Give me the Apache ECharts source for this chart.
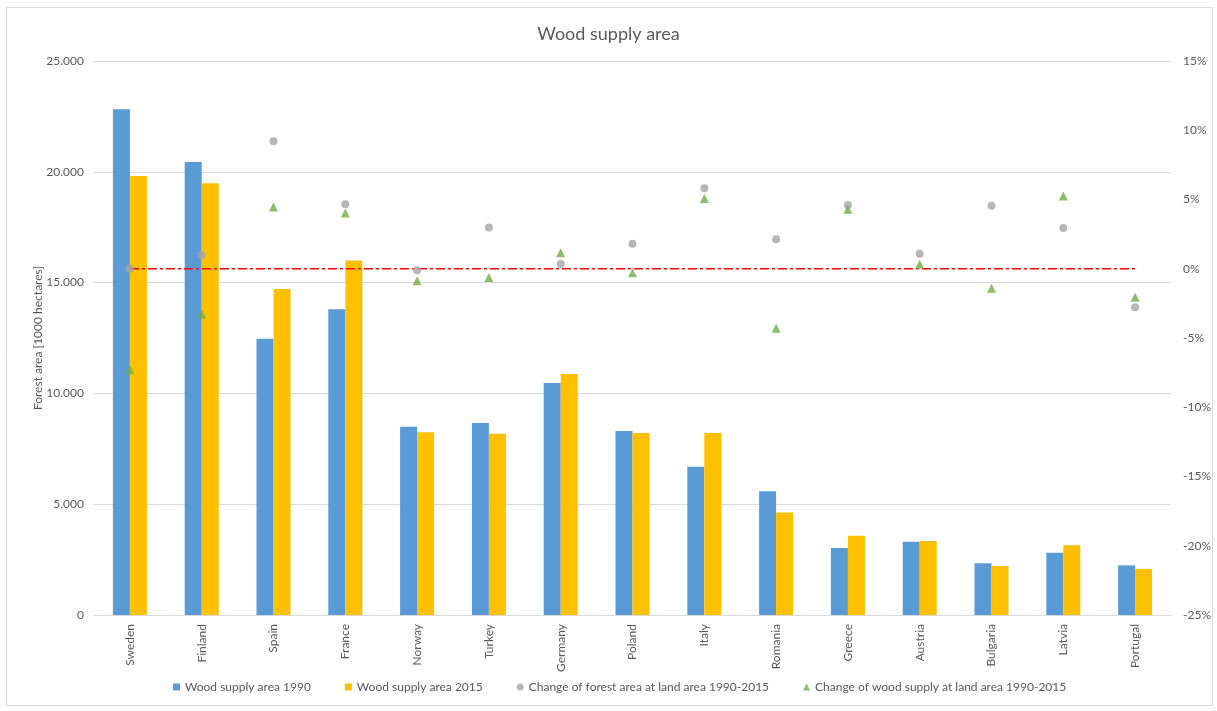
<!DOCTYPE html>
<html>
<head>
<meta charset="utf-8">
<title>Wood supply area</title>
<script src="https://cdn.jsdelivr.net/npm/echarts@6/dist/echarts.min.js"></script>
<style>
  html, body { margin: 0; padding: 0; background: #ffffff; }
  #chart { width: 1217px; height: 711px; }
</style>
</head>
<body>
<div id="chart"></div>
<script>
// Countries on the category axis
const countries = ['Sweden', 'Finland', 'Spain', 'France', 'Norway', 'Turkey', 'Germany',
  'Poland', 'Italy', 'Romania', 'Greece', 'Austria', 'Bulgaria', 'Latvia', 'Portugal'];

// Wood supply area, 1000 hectares
const supply1990 = [22820, 20440, 12470, 13800, 8500, 8660, 10470, 8300, 6690, 5580, 3020, 3310, 2330, 2810, 2240];
const supply2015 = [19810, 19480, 14710, 16000, 8250, 8180, 10880, 8210, 8210, 4620, 3580, 3340, 2210, 3150, 2080];

// Relative change 1990-2015, percent
const forestChange = [0.0, 1.0, 9.2, 4.65, -0.1, 2.97, 0.34, 1.81, 5.81, 2.13, 4.6, 1.09, 4.55, 2.94, -2.78];
const supplyChange = [-7.3, -3.27, 4.45, 4.03, -0.86, -0.64, 1.16, -0.28, 5.08, -4.3, 4.29, 0.32, -1.41, 5.25, -2.06];

// Zero reference for the percentage axis
const zeroLine = countries.map(() => 0);

// Tick settings
const leftMin = 0, leftMax = 25000, leftStep = 5000;
const rightMin = -25, rightMax = 15, rightStep = 5;

const textColor = '#595959';
const gridColor = '#D9D9D9';
const fontFamily = 'Lato, "Liberation Sans", sans-serif';

const chart = echarts.init(document.getElementById('chart'), null, { renderer: 'canvas' });

chart.setOption({
  backgroundColor: '#ffffff',
  animation: false,
  textStyle: { fontFamily: fontFamily, color: textColor },
  graphic: [{
    type: 'rect',
    silent: true,
    shape: { x: 6.5, y: 7.5, width: 1206, height: 698 },
    style: { fill: 'none', stroke: gridColor, lineWidth: 1 }
  }],
  title: {
    text: 'Wood supply area',
    left: 'center',
    top: 20,
    textStyle: { fontFamily: fontFamily, fontSize: 18, fontWeight: 'normal', color: textColor }
  },
  legend: {
    bottom: 13,
    left: 168,
    itemGap: 34,
    itemWidth: 7,
    itemHeight: 7,
    textStyle: { fontFamily: fontFamily, fontSize: 12, color: textColor },
    data: [
      { name: 'Wood supply area 1990', icon: 'rect' },
      { name: 'Wood supply area 2015', icon: 'rect' },
      { name: 'Change of forest area at land area 1990-2015', icon: 'circle' },
      { name: 'Change of wood supply at land area 1990-2015', icon: 'triangle' }
    ]
  },
  grid: { left: 94, right: 46, top: 61, bottom: 96 },
  xAxis: {
    type: 'category',
    data: countries,
    axisLine: { lineStyle: { color: gridColor, width: 1 } },
    axisTick: { show: false },
    axisLabel: { rotate: 90, margin: 9, fontSize: 12, color: textColor, fontFamily: fontFamily }
  },
  yAxis: [
    {
      type: 'value',
      min: leftMin, max: leftMax, interval: leftStep,
      name: 'Forest area [1000 hectares]',
      nameLocation: 'middle',
      nameGap: 50,
      nameMoveOverlap: false,
      nameRotate: 90,
      nameTextStyle: { fontSize: 12, color: textColor, fontFamily: fontFamily },
      axisLine: { show: false },
      axisTick: { show: false },
      splitLine: { lineStyle: { color: gridColor, width: 1 } },
      axisLabel: {
        margin: 10, fontSize: 12, color: textColor, fontFamily: fontFamily,
        formatter: v => v === 0 ? '0' : (v / 1000).toFixed(3)
      }
    },
    {
      type: 'value',
      min: rightMin, max: rightMax, interval: rightStep,
      position: 'right',
      axisLine: { show: false },
      axisTick: { show: false },
      splitLine: { show: false },
      axisLabel: {
        margin: 12, fontSize: 12, color: textColor, fontFamily: fontFamily,
        formatter: v => v + '%'
      }
    }
  ],
  series: [
    {
      name: 'Wood supply area 1990',
      type: 'bar',
      yAxisIndex: 0,
      data: supply1990,
      barWidth: 17,
      barGap: '0%',
      itemStyle: { color: '#5B9BD5' }
    },
    {
      name: 'Wood supply area 2015',
      type: 'bar',
      yAxisIndex: 0,
      data: supply2015,
      barWidth: 17,
      barGap: '0%',
      itemStyle: { color: '#FFC000' }
    },
    {
      name: 'zero',
      type: 'line',
      yAxisIndex: 1,
      data: zeroLine,
      symbol: 'none',
      silent: true,
      lineStyle: { color: '#FF0000', width: 1.5, type: [9, 3, 3, 3] },
      z: 3
    },
    {
      name: 'Change of forest area at land area 1990-2015',
      type: 'scatter',
      yAxisIndex: 1,
      data: forestChange,
      symbol: 'circle',
      symbolSize: 8,
      itemStyle: { color: '#A5A5A5' },
      z: 4
    },
    {
      name: 'Change of wood supply at land area 1990-2015',
      type: 'scatter',
      yAxisIndex: 1,
      data: supplyChange,
      symbol: 'triangle',
      symbolSize: 9,
      itemStyle: { color: '#70AD47' },
      z: 5
    }
  ]
});
</script>
</body>
</html>
